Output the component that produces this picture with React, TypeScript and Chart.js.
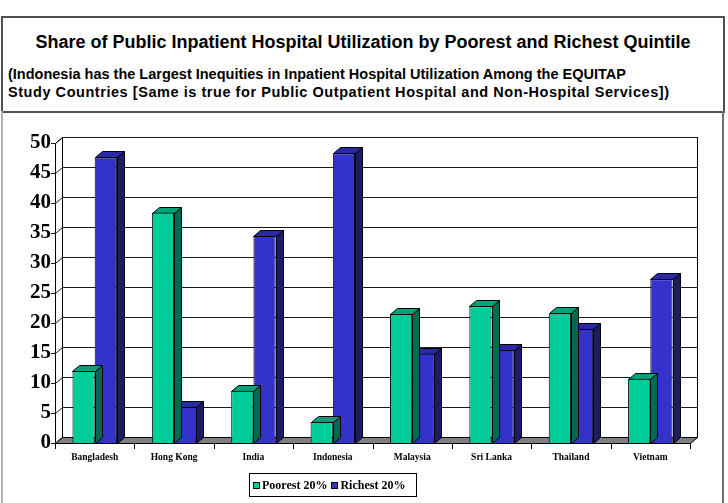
import React, { useEffect, useRef } from 'react';
import { Chart, registerables } from 'chart.js';

Chart.register(...registerables);

// Share of public inpatient hospital utilization (%), by income quintile
const countries = ['Bangladesh', 'Hong Kong', 'India', 'Indonesia', 'Malaysia', 'Sri Lanka', 'Thailand', 'Vietnam'];
const poorest = [12, 38.4, 8.7, 3.5, 21.5, 22.8, 21.6, 10.7];
const richest = [47.6, 6, 34.5, 48.3, 14.9, 15.5, 19, 27.3];
const seriesNames = ['Poorest 20%', 'Richest 20%'];
const yMin = 0;
const yMax = 50;
const yStep = 5;

const titleText = 'Share of Public Inpatient Hospital Utilization by Poorest and Richest Quintile';
const subtitleLines = [
  '(Indonesia has the Largest Inequities in Inpatient Hospital Utilization Among the EQUITAP',
  'Study Countries [Same is true for Public Outpatient Hospital and Non-Hospital Services])',
];
const subtitleSpacing = [0, 0.55];

const palette = [
  { front: '#00CC99', top: '#00A079', side: '#006B50' },
  { front: '#3333CC', top: '#2A2AA6', side: '#1C1C66' },
];

// oblique depth of the pseudo-3D frame and columns
const DX = 7;
const DY = 6;

const crisp = (v: number) => Math.round(v) + 0.5;

const frame3d = {
  id: 'frame3d',
  beforeDatasetsDraw(chart: any) {
    const { ctx, chartArea: a, scales } = chart;
    const y = scales.y;
    const x = scales.x;
    const L = Math.round(a.left);
    const R = Math.round(a.right);
    const T = Math.round(a.top);
    const B = Math.round(a.bottom);
    ctx.save();
    ctx.lineWidth = 1;
    ctx.strokeStyle = '#000';

    // back wall
    ctx.fillStyle = '#fff';
    ctx.fillRect(L + DX, T - DY, R - L, B - T);
    ctx.strokeRect(L + DX + 0.5, T - DY + 0.5, R - L, B - T);

    // left wall
    ctx.beginPath();
    ctx.moveTo(L + 0.5, B + 0.5);
    ctx.lineTo(L + 0.5, T + 0.5);
    ctx.lineTo(L + DX + 0.5, T - DY + 0.5);
    ctx.lineTo(L + DX + 0.5, B - DY + 0.5);
    ctx.closePath();
    ctx.stroke();

    // gridlines: across the left wall, then along the back wall
    ctx.strokeStyle = '#1a1a1a';
    y.ticks.forEach((t: any) => {
      const py = Math.round(y.getPixelForValue(t.value));
      ctx.beginPath();
      ctx.moveTo(L + 0.5, py + 0.5);
      ctx.lineTo(L + DX + 0.5, py - DY + 0.5);
      ctx.lineTo(R + DX + 0.5, py - DY + 0.5);
      ctx.stroke();
      // tick mark
      ctx.beginPath();
      ctx.moveTo(L - 4, py + 0.5);
      ctx.lineTo(L + 0.5, py + 0.5);
      ctx.stroke();
    });

    // floor
    ctx.strokeStyle = '#000';
    ctx.fillStyle = '#808080';
    ctx.beginPath();
    ctx.moveTo(L + 0.5, B + 0.5);
    ctx.lineTo(R + 0.5, B + 0.5);
    ctx.lineTo(R + DX + 0.5, B - DY + 0.5);
    ctx.lineTo(L + DX + 0.5, B - DY + 0.5);
    ctx.closePath();
    ctx.fill();
    ctx.stroke();

    // category separators below the floor
    const n = countries.length;
    for (let i = 0; i <= n; i++) {
      const px = crisp(x.getPixelForValue(i - 0.5));
      ctx.beginPath();
      ctx.moveTo(px, B);
      ctx.lineTo(px, B + 6);
      ctx.stroke();
    }
    ctx.restore();
  },
  beforeDatasetDraw(chart: any, args: any) {
    const { ctx } = chart;
    const colors = palette[args.index];
    ctx.save();
    ctx.lineWidth = 1;
    ctx.strokeStyle = '#000';
    args.meta.data.forEach((bar: any) => {
      const { x, y, base, width } = bar.getProps(['x', 'y', 'base', 'width'], true);
      const l = Math.round(x - width / 2) + 0.5;
      const r = Math.round(x + width / 2) + 0.5;
      const t = Math.round(y) + 0.5;
      const b = Math.round(base) + 0.5;
      // side face
      ctx.fillStyle = colors.side;
      ctx.beginPath();
      ctx.moveTo(r, t);
      ctx.lineTo(r + DX, t - DY);
      ctx.lineTo(r + DX, b - DY);
      ctx.lineTo(r, b);
      ctx.closePath();
      ctx.fill();
      ctx.stroke();
      // top face
      ctx.fillStyle = colors.top;
      ctx.beginPath();
      ctx.moveTo(l, t);
      ctx.lineTo(l + DX, t - DY);
      ctx.lineTo(r + DX, t - DY);
      ctx.lineTo(r, t);
      ctx.closePath();
      ctx.fill();
      ctx.stroke();
    });
    ctx.restore();
  },
};

const serif = '"Liberation Serif", "Times New Roman", serif';
const sans = '"Liberation Sans", Arial, sans-serif';

export default function App() {
  const canvasRef = useRef<HTMLCanvasElement | null>(null);

  useEffect(() => {
    document.body.style.margin = '0';
    const canvas = canvasRef.current;
    if (!canvas) return;
    const chart = new Chart(canvas, {
      type: 'bar',
      data: {
        labels: countries,
        datasets: [
          {
            label: seriesNames[0],
            data: poorest,
            backgroundColor: palette[0].front,
            borderColor: '#000',
            borderWidth: 1,
            categoryPercentage: 0.56,
            barPercentage: 1,
          },
          {
            label: seriesNames[1],
            data: richest,
            backgroundColor: palette[1].front,
            borderColor: '#000',
            borderWidth: 1,
            categoryPercentage: 0.56,
            barPercentage: 1,
          },
        ],
      },
      options: {
        responsive: false,
        animation: false,
        devicePixelRatio: 1,
        layout: { padding: { left: 0, top: 143, right: 38, bottom: 30 } },
        plugins: {
          legend: { display: false },
          title: { display: false },
          tooltip: { enabled: false },
        },
        scales: {
          x: {
            grid: { display: false, drawTicks: false },
            border: { display: false },
            ticks: {
              color: '#000',
              font: { family: serif, size: 9.5, weight: 'bold' },
              padding: 9,
              maxRotation: 0,
              autoSkip: false,
            },
            afterFit: (s: any) => {
              s.height = 30;
            },
          },
          y: {
            min: yMin,
            max: yMax,
            grid: { display: false, drawTicks: false },
            border: { display: false },
            ticks: {
              stepSize: yStep,
              color: '#000',
              font: { family: serif, size: 21, weight: 'bold' },
              padding: 4,
            },
            afterFit: (s: any) => {
              s.width = 55;
            },
          },
        },
      },
      plugins: [frame3d],
    });
    return () => chart.destroy();
  }, []);

  return (
    <div style={{ position: 'relative', width: 728, height: 503, overflow: 'hidden', background: '#fff' }}>
      {/* heading panel */}
      <div
        style={{
          position: 'absolute',
          left: 1,
          top: 16,
          width: 720,
          height: 93,
          border: '2px solid #505050',
          fontFamily: sans,
          fontWeight: 'bold',
          color: '#000',
        }}
      >
        <div style={{ position: 'absolute', left: 0, right: 0, top: 14, fontSize: 18, lineHeight: '21px', textAlign: 'center' }}>
          {titleText}
        </div>
        <div style={{ position: 'absolute', left: 5, top: 47, fontSize: 14.5, lineHeight: '18px', whiteSpace: 'nowrap' }}>
          {subtitleLines.map((s, i) => (
            <div key={s} style={{ letterSpacing: subtitleSpacing[i] }}>
              {s}
            </div>
          ))}
        </div>
      </div>
      {/* chart panel */}
      <div
        style={{
          position: 'absolute',
          left: 1,
          top: 111,
          width: 719,
          height: 400,
          borderLeft: '2px solid #b0b0b0',
          borderRight: '2px solid #707070',
        }}
      />
      <canvas ref={canvasRef} width={728} height={503} style={{ position: 'absolute', left: 0, top: 0 }} />
      {/* legend */}
      <div
        style={{
          position: 'absolute',
          left: 249,
          top: 473,
          width: 166,
          height: 22,
          border: '1px solid #000',
          display: 'flex',
          alignItems: 'center',
          fontFamily: serif,
          fontWeight: 'bold',
          fontSize: 12,
          color: '#000',
          whiteSpace: 'nowrap',
        }}
      >
        {seriesNames.map((name, i) => (
          <div key={name} style={{ display: 'flex', alignItems: 'center', marginLeft: i === 0 ? 3 : 4 }}>
            <span
              style={{
                display: 'inline-block',
                width: 5,
                height: 5,
                border: '1px solid #000',
                background: palette[i].front,
                marginRight: 2,
              }}
            />
            <span>{name}</span>
          </div>
        ))}
      </div>
    </div>
  );
}
